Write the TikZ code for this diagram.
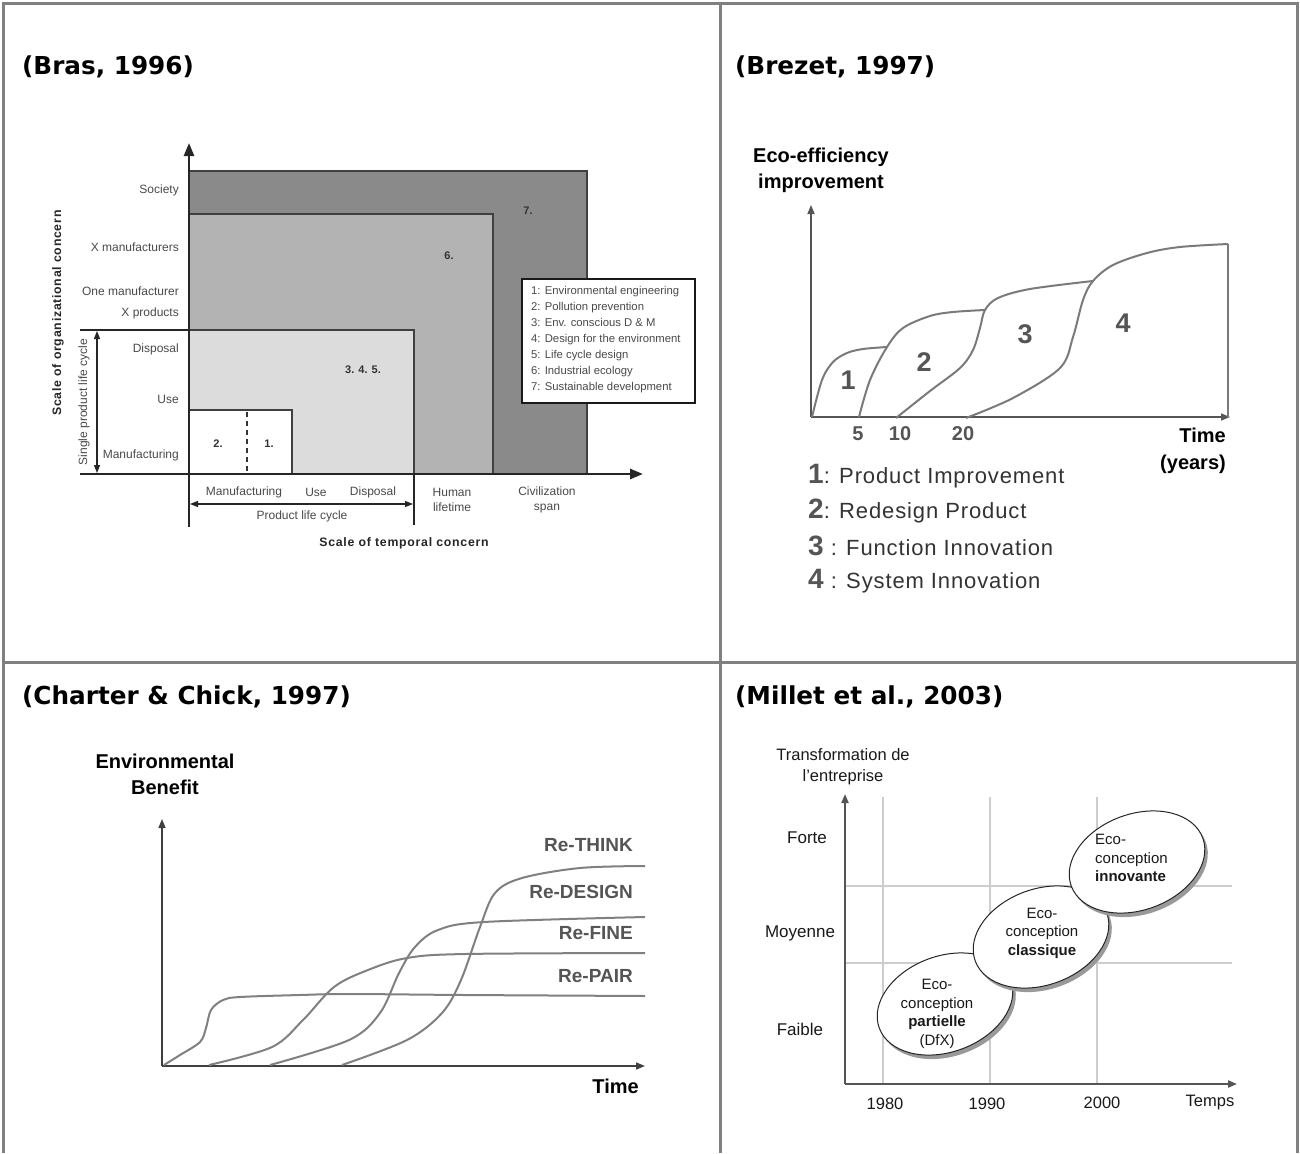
\documentclass[tikz,border=0pt]{standalone}
\usepackage{fontspec}
\setmainfont{Liberation Sans}
\newfontfamily\titlefont{DejaVu Sans}
\newfontfamily\trackfont{Liberation Sans}[LetterSpace=6]
\newfontfamily\legfont{Liberation Sans}[LetterSpace=4]
\usetikzlibrary{arrows.meta,shapes.geometric}
\definecolor{framegray}{HTML}{808080}
\definecolor{darkfill}{HTML}{8A8A8A}
\definecolor{midfill}{HTML}{B3B3B3}
\definecolor{lightfill}{HTML}{DCDCDC}
\definecolor{brastext}{HTML}{4A4A4A}
\definecolor{curvegray}{HTML}{7A7A7A}
\definecolor{gridgray}{HTML}{CDCDCD}
\definecolor{numgray}{HTML}{555555}
\definecolor{axisgray}{HTML}{555555}
\newcommand{\fsz}[2]{\fontsize{#1}{#2}\selectfont}
\tikzset{
  paneltitle/.style={anchor=west, inner sep=0, font=\titlefont\bfseries\fsz{24.7}{29}},
  brastxt/.style={inner sep=0, text=brastext, font=\fsz{12}{15}},
  brasbold/.style={inner sep=0, text=black!80, font=\bfseries\fsz{11}{13}},
  brasscale/.style={inner sep=0, text=black!85, font=\trackfont\bfseries\fsz{12.3}{14}},
  brasaxis/.style={line width=2.5pt, draw=black!85, -{Triangle[length=13pt,width=10pt]}},
  brasrect/.style={draw=black!75, line width=1.2pt},
  bigaxis/.style={line width=1.5pt, draw=axisgray, -{Triangle[length=9pt,width=7pt]}},
  curve/.style={line width=2pt, draw=curvegray, smooth, tension=0.55},
  headbold/.style={inner sep=0, font=\bfseries\fsz{20}{26}, align=center},
  bignum/.style={inner sep=0, text=numgray, font=\bfseries\fsz{27}{30}},
  ticklab/.style={inner sep=0, text=numgray, font=\bfseries\fsz{20}{24}},
  legline/.style={anchor=west, inner sep=0, text=black!80, font=\legfont\fsz{22}{26}},
  relab/.style={anchor=east, inner sep=0, text=numgray, font=\bfseries\fsz{19}{22}},
  milltxt/.style={inner sep=0, text=black!90, font=\fsz{16.5}{21}},
  elltxt/.style={inner sep=0, text=black!90, font=\fsz{15}{18.5}, align=center},
}
\begin{document}
\begin{tikzpicture}[x=1pt,y=-1pt]
\useasboundingbox (0,0) rectangle (1300,1153);
\fill[white] (0,0) rectangle (1300,1153);
% ---------- frame
\draw[framegray, line width=3pt] (3,1153) -- (3,4) -- (1297,4) -- (1297,1153);
\draw[framegray, line width=3pt] (720,4) -- (720,1153);
\draw[framegray, line width=3pt] (3,662) -- (1297,662);
% ---------- titles
\node[paneltitle] (t1) at (22,67) {(Bras, 1996)};
\node[paneltitle] (t2) at (735,67) {(Brezet, 1997)};
\node[paneltitle] (t3) at (22,697) {(Charter \& Chick, 1997)};
\node[paneltitle] (t4) at (735,697) {(Millet et al., 2003)};

% =============== Bras
\filldraw[fill=darkfill, brasrect] (189,171) rectangle (587,474);
\filldraw[fill=midfill, brasrect] (189,214) rectangle (493,474);
\filldraw[fill=lightfill, brasrect] (189,330) rectangle (414,474);
\filldraw[fill=white, brasrect] (189,410) rectangle (292,474);
\draw[line width=1.6pt, draw=black!80, dash pattern=on 5pt off 4pt] (247,412) -- (247,474);
\draw[line width=2.2pt, draw=black!85] (80,330) -- (189,330);
\draw[brasaxis] (80,474) -- (643,474);
\draw[brasaxis] (189,527) -- (189,143);
\draw[line width=2.5pt, draw=black!85] (414,474) -- (414,525);
\draw[line width=1.2pt, draw=black!85, {Triangle[length=8pt,width=6pt]}-{Triangle[length=8pt,width=6pt]}] (97,331) -- (97,473);
\draw[line width=1.2pt, draw=black!85, {Triangle[length=8pt,width=6pt]}-{Triangle[length=8pt,width=6pt]}] (190,504) -- (413,504);
% legend box
\node[draw=black!90, fill=white, line width=1.6pt, minimum width=173pt, minimum height=124pt, anchor=north west] (legbox) at (521,278) {};
\node[anchor=north west, inner sep=0, text=brastext, font=\fsz{11.3}{16.1}, align=left] (legtext) at (531,286)
 {1: Environmental engineering\\2: Pollution prevention\\3: Env. conscious D \& M\\4: Design for the environment\\5: Life cycle design\\6: Industrial ecology\\7: Sustainable development};
% y labels
\node[brastxt, anchor=east] (ys) at (179,190) {Society};
\node[brastxt, anchor=east] (yxm) at (179,247) {X manufacturers};
\node[brastxt, anchor=east] (yom) at (179,291) {One manufacturer};
\node[brastxt, anchor=east] (yxp) at (179,313) {X products};
\node[brastxt, anchor=east] (yd) at (179,349) {Disposal};
\node[brastxt, anchor=east] (yu) at (179,399) {Use};
\node[brastxt, anchor=east] (ym) at (179,455) {Manufacturing};
% numbers
\node[brasbold] (n2) at (218,444) {2.};
\node[brasbold] (n1) at (269,444) {1.};
\node[brasbold] (n345) at (363,370) {3. 4. 5.};
\node[brasbold] (n6) at (449,256) {6.};
\node[brasbold] (n7) at (528,211) {7.};
% x labels
\node[brastxt] (xm) at (244,492) {Manufacturing};
\node[brastxt] (xu) at (316,492) {Use};
\node[brastxt] (xd) at (373,492) {Disposal};
\node[brastxt] (plc) at (302,516) {Product life cycle};
\node[brastxt, align=center] (hl) at (452,500) {Human\\lifetime};
\node[brastxt, align=center] (cs) at (547,500) {Civilization\\span};
\node[brasscale] (stc) at (404,543) {Scale of temporal concern};
\node[brasscale, rotate=90] (soc) at (58,313) {Scale of organizational concern};
\node[brastxt, rotate=90] (splc) at (84,402) {Single product life cycle};

% =============== Brezet
\node[headbold] (eco) at (821,170) {Eco-efficiency\\improvement};
\draw[bigaxis] (811,417) -- (811,205);
\draw[bigaxis] (811,417) -- (1230,417);
\draw[line width=1.8pt, draw=curvegray] (1228,244) -- (1228,417);
\draw[curve] plot coordinates {(812,417) (822,380) (833,362) (847,353) (863,349) (887,347)};
\draw[curve] plot coordinates {(859,417) (870,380) (887,347) (903,328) (930,316) (953,312) (985,310)};
\draw[curve] plot coordinates {(896,418) (930,391) (960,368) (973,350) (980,328) (985,310) (998,298) (1030,289) (1093,281)};
\draw[curve] plot coordinates {(966,418) (1013,398) (1060,368) (1073,337) (1083,300) (1093,281) (1113,265) (1147,253) (1180,247) (1228,244)};
\node[bignum] (b1) at (848,380) {1};
\node[bignum] (b2) at (924,362) {2};
\node[bignum] (b3) at (1025,334) {3};
\node[bignum] (b4) at (1123,323) {4};
\node[ticklab] (k5) at (858,434) {5};
\node[ticklab] (k10) at (900,434) {10};
\node[ticklab] (k20) at (963,434) {20};
\node[headbold, align=right, anchor=east, font=\bfseries\fsz{20}{27}] (timey) at (1226,451) {Time\\(years)};
\node[legline] (l1) at (808,476) {{\bfseries\fsz{28}{28}\color{numgray}1}: Product Improvement};
\node[legline] (l2) at (808,511) {{\bfseries\fsz{28}{28}\color{numgray}2}: Redesign Product};
\node[legline] (l3) at (808,546) {{\bfseries\fsz{28}{28}\color{numgray}3} : Function Innovation};
\node[legline] (l4) at (808,581) {{\bfseries\fsz{28}{28}\color{numgray}4} : System Innovation};

% =============== Charter & Chick
\node[headbold] (envb) at (165,774) {Environmental\\Benefit};
\draw[bigaxis, draw=black!75] (162,1066) -- (162,819);
\draw[bigaxis, draw=black!75] (162,1066) -- (645,1066);
\draw[curve, draw=gray] plot coordinates {(164,1065) (180,1055) (200,1042) (206,1028) (211,1010) (223,1000) (240,997) (300,995) (349,994) (465,995) (645,996)};
\draw[curve, draw=gray] plot coordinates {(209,1065) (272,1047) (303,1020) (334,987) (368,970) (407,958) (465,954) (645,953)};
\draw[curve, draw=gray] plot coordinates {(270,1065) (349,1040) (380,1013) (399,973) (415,947) (438,930) (484,922) (645,917)};
\draw[curve, draw=gray] plot coordinates {(342,1065) (407,1040) (442,1013) (461,980) (480,927) (495,893) (522,878) (580,868) (645,866)};
\node[relab] (rt) at (633,845) {Re-THINK};
\node[relab] (rd) at (633,892) {Re-DESIGN};
\node[relab] (rf) at (633,933) {Re-FINE};
\node[relab] (rp) at (633,976) {Re-PAIR};
\node[headbold, anchor=east] (timec) at (639,1086) {Time};

% =============== Millet
\foreach \gx in {883,990,1097} \draw[gridgray, line width=1.2pt] (\gx,797) -- (\gx,1083);
\foreach \gy in {886,963} \draw[gridgray, line width=1.2pt] (845,\gy) -- (1232,\gy);
\draw[bigaxis, line width=2pt] (845,1084) -- (845,794);
\draw[bigaxis, line width=2pt] (845,1084) -- (1237,1084);
\node[milltxt, align=center] (tre) at (843,767) {Transformation de\\l’entreprise};
\node[milltxt, font=\fsz{17}{20}] (fo) at (807,838) {Forte};
\node[milltxt, font=\fsz{17}{20}] (mo) at (800,933) {Moyenne};
\node[milltxt, font=\fsz{17}{20}] (fa) at (800,1029) {Faible};
\node[milltxt] (y80) at (885,1104) {1980};
\node[milltxt] (y90) at (987,1104) {1990};
\node[milltxt] (y00) at (1102,1103) {2000};
\node[milltxt] (tps) at (1210,1103) {Temps};
% ellipses
\foreach \cx/\cy in {945/1004, 1041/937, 1137/862}{
  \fill[gray!80, rotate around={20:(\cx+3,\cy+4)}] (\cx+3,\cy+4) ellipse (70 and 48);
  \filldraw[fill=white, draw=black!85, line width=1pt, rotate around={20:(\cx,\cy)}] (\cx,\cy) ellipse (70 and 48);
}
\node[elltxt] (e1) at (937,1014) {Eco-\\conception\\{\bfseries partielle}\\(DfX)};
\node[elltxt] (e2) at (1042,933) {Eco-\\conception\\{\bfseries classique}};
\node[elltxt, align=left, anchor=west] (e3) at (1095,858) {Eco-\\conception\\{\bfseries innovante}};
\end{tikzpicture}
\end{document}
